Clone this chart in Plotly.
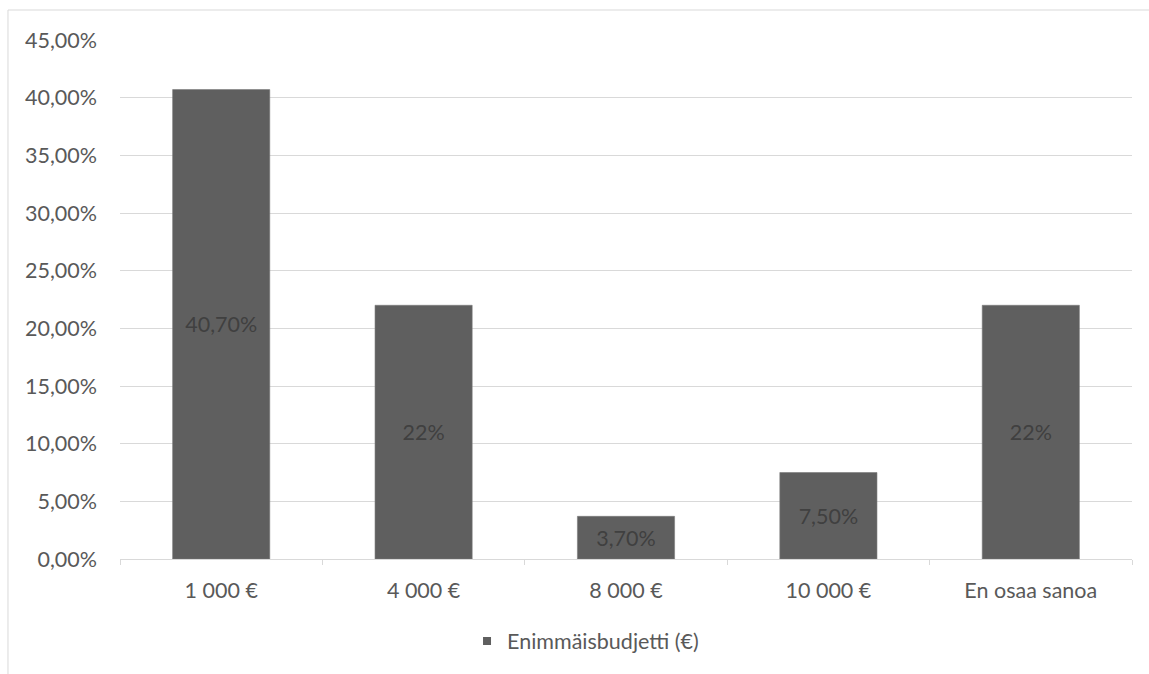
import plotly.graph_objects as go

# Enimmäisbudjetti – share of respondents per budget option
categories = ["1 000 €", "4 000 €", "8 000 €", "10 000 €", "En osaa sanoa"]
shares = [40.7, 22, 3.7, 7.5, 22]
value_labels = ["40,70%", "22%", "3,70%", "7,50%", "22%"]
series_name = "Enimmäisbudjetti (€)"

FONT = "Lato, Carlito, Calibri, sans-serif"
TEXT = "#595959"
GRID = "#d9d9d9"
BAR = "#5f5f5f"
FS = 21.5

fig = go.Figure()
fig.add_trace(
    go.Bar(
        x=categories,
        y=shares,
        name=series_name,
        text=value_labels,
        textposition="inside",
        insidetextanchor="middle",
        textangle=0,
        constraintext="none",
        textfont=dict(family=FONT, size=FS, color="#404040"),
        marker=dict(color=BAR, line=dict(color="#7a7a7a", width=0.6)),
        showlegend=False,
        hoverinfo="skip",
    )
)
# legend entry with a small square swatch
fig.add_trace(
    go.Scatter(
        x=[None],
        y=[None],
        mode="markers",
        name=series_name,
        marker=dict(symbol="square", size=8, color=BAR),
        showlegend=True,
    )
)

fig.update_layout(
    width=1149,
    height=674,
    margin=dict(l=120, r=17, t=40, b=115),
    paper_bgcolor="white",
    plot_bgcolor="white",
    bargap=0.52,
    separators=", ",
    font=dict(family=FONT, size=FS, color=TEXT),
    legend=dict(
        orientation="h",
        x=0.46,
        xanchor="center",
        y=-0.158,
        yanchor="middle",
        font=dict(family=FONT, size=FS, color=TEXT),
        itemwidth=30,
    ),
    shapes=[
        # outer chart frame (top and left edges)
        dict(type="line", xref="paper", yref="paper",
             x0=-0.1107, x1=1.1, y0=1.0578, y1=1.0578,
             line=dict(color=GRID, width=1)),
        dict(type="line", xref="paper", yref="paper",
             x0=-0.1107, x1=-0.1107, y0=1.0578, y1=-0.3,
             line=dict(color=GRID, width=1)),
    ],
)

fig.update_yaxes(
    range=[0, 45],
    dtick=5,
    tick0=0,
    tickformat=".2f",
    ticksuffix="%",
    showgrid=True,
    gridcolor=GRID,
    gridwidth=1,
    zeroline=False,
    showline=False,
    ticks="",
    ticklabelstandoff=22,
    tickfont=dict(family=FONT, size=FS, color=TEXT),
)

fig.update_xaxes(
    type="category",
    showline=True,
    linecolor=GRID,
    linewidth=1,
    ticks="outside",
    tickson="boundaries",
    ticklen=5,
    tickcolor=GRID,
    showgrid=False,
    ticklabelstandoff=12,
    tickfont=dict(family=FONT, size=FS, color=TEXT),
)

fig.write_html("out.html")
